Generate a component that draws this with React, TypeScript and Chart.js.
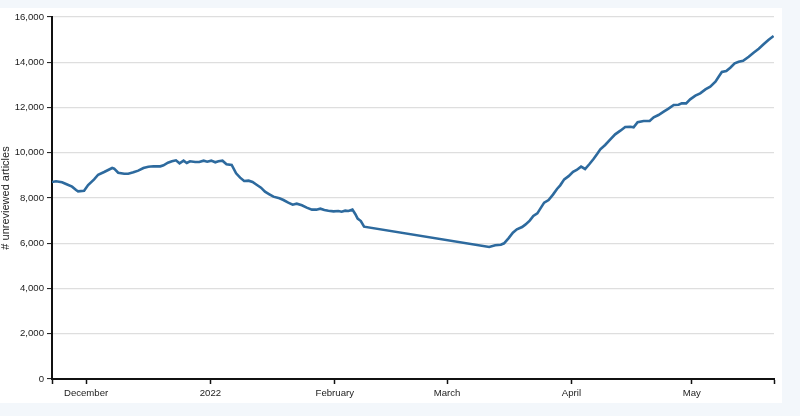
import React, { useEffect, useRef } from "react";
import { Chart, registerables } from "chart.js";

Chart.register(...registerables);

// Days counted from 1 December 2021 (0 = Dec 1, 31 = Jan 1 2022, ...)
const dayOffsets = [
  -8.5, -7.5, -6, -5, -3.5, -2.5, -2, -0.5, 0.5, 2, 3, 4.5, 5.5, 6.5, 7, 8, 9.5, 10.5, 11.8, 13,
  14.3, 15.5, 16.8, 18.5, 19.3, 20.4, 21.4, 22.4, 23.3, 24.3, 25.1, 25.9, 27.2, 28.2, 29.3, 30.2,
  31.2, 32.2, 33, 34, 35, 36.3, 37.4, 38.4, 39.4, 40.5, 41.5, 42.6, 43.6, 44.6, 45.7, 46.7, 48.2,
  49.2, 50.4, 51.5, 52.5, 53.8, 55, 56.3, 57.4, 58.4, 59.4, 60.4, 61.7, 62.9, 63.7, 64.6, 65.4,
  66.4, 67.1, 67.7, 68.5, 69.3, 100.5, 102, 103.4, 104.2, 105.3, 106.4, 107.4, 108.7, 109.5, 110.6,
  111.5, 112.5, 113.4, 114.2, 115.3, 116.4, 117.4, 118.2, 119.2, 120.3, 121.4, 122.3, 123.4, 124.4,
  125.5, 126.5, 127.4, 128.2, 129.4, 130.7, 131.9, 133.2, 134.4, 135.7, 136.5, 137.5, 139, 140.5,
  141.5, 142.7, 144, 145.2, 146.5, 147.7, 148.5, 149.6, 150.6, 151.9, 153.1, 154.4, 155.6, 156.9,
  157.7, 158.5, 159.6, 160.6, 161.7, 162.7, 163.8, 165.2, 166.4, 167.7, 168.9, 170.1, 171.4,
];

const unreviewedArticles = [
  8707, 8737, 8693, 8619, 8500, 8354, 8295, 8324, 8574, 8825, 9030, 9149, 9237, 9326, 9297, 9119,
  9075, 9075, 9134, 9208, 9326, 9385, 9400, 9400, 9444, 9562, 9621, 9665, 9533, 9650, 9547, 9621,
  9591, 9591, 9650, 9606, 9650, 9577, 9621, 9650, 9488, 9459, 9090, 8899, 8752, 8766, 8707, 8574,
  8456, 8280, 8162, 8059, 7986, 7912, 7794, 7706, 7750, 7677, 7573, 7485, 7485, 7529, 7470, 7440,
  7411, 7426, 7396, 7440, 7426, 7485, 7293, 7087, 6983, 6733, 5834, 5908, 5937, 5997, 6218, 6468,
  6615, 6718, 6822, 6998, 7204, 7322, 7573, 7794, 7912, 8150, 8400, 8560, 8825, 8965, 9155, 9237,
  9385, 9282, 9503, 9724, 9945, 10151, 10343, 10593, 10814, 10976, 11138, 11150, 11125, 11346,
  11403, 11403, 11566, 11669, 11816, 11949, 12110, 12125, 12184, 12184, 12360, 12522, 12626, 12802,
  12920, 13141, 13362, 13569, 13613, 13760, 13953, 14025, 14069, 14246, 14422, 14599, 14793, 14983,
  15160,
];

const xMinDay = -8.5;
const xMaxDay = 171.5;
const monthTickDays = [0, 31, 62, 90, 121, 151];
const monthTickLabels = ["December", "2022", "February", "March", "April", "May"];
const yTickValues = [0, 2000, 4000, 6000, 8000, 10000, 12000, 14000, 16000];
const yAxisTitle = "# unreviewed articles";

const FONT = "'Liberation Sans', Arial, Helvetica, sans-serif";

export default function App() {
  const canvasRef = useRef<HTMLCanvasElement | null>(null);

  useEffect(() => {
    if (!canvasRef.current) return;
    const chart = new Chart(canvasRef.current, {
      type: "line",
      data: {
        datasets: [
          {
            data: dayOffsets.map((d, i) => ({ x: d, y: unreviewedArticles[i] })),
            borderColor: "#2d6a9e",
            borderWidth: 2.6,
            pointRadius: 0,
            tension: 0,
            fill: false,
          },
        ],
      },
      options: {
        animation: false,
        responsive: false,
        maintainAspectRatio: false,
        layout: { padding: { top: 9, right: 8, left: 0, bottom: 0 } },
        plugins: {
          legend: { display: false },
          tooltip: { enabled: false },
        },
        scales: {
          x: {
            type: "linear",
            min: xMinDay,
            max: xMaxDay,
            afterBuildTicks: (scale: any) => {
              scale.ticks = [
                { value: xMinDay },
                ...monthTickDays.map((v) => ({ value: v })),
                { value: xMaxDay },
              ];
            },
            afterFit: (scale: any) => {
              scale.height = 24;
            },
            ticks: {
              autoSkip: false,
              maxRotation: 0,
              padding: 4,
              color: "#222",
              font: { family: FONT, size: 9.6 },
              callback: (value: any) => {
                const idx = monthTickDays.indexOf(Number(value));
                return idx >= 0 ? monthTickLabels[idx] : "";
              },
            },
            grid: {
              drawOnChartArea: false,
              drawTicks: true,
              tickLength: 5,
              tickColor: "#111",
              tickWidth: 1.5,
            },
            border: { display: true, color: "#111", width: 2 },
          },
          y: {
            type: "linear",
            min: 0,
            max: 16000,
            afterBuildTicks: (scale: any) => {
              scale.ticks = yTickValues.map((v) => ({ value: v }));
            },
            afterFit: (scale: any) => {
              scale.width = 52;
            },
            ticks: {
              padding: 3,
              color: "#222",
              font: { family: FONT, size: 9.6 },
              callback: (value: any) => Number(value).toLocaleString("en-US"),
            },
            grid: {
              color: "#dedede",
              lineWidth: 1.2,
              tickLength: 5,
              tickColor: "#111",
              tickWidth: 1,
            },
            border: { display: true, color: "#111", width: 2 },
            title: {
              display: true,
              text: yAxisTitle,
              color: "#222",
              font: { family: FONT, size: 11 },
              padding: { top: -1, bottom: 0 },
            },
          },
        },
      },
    });
    return () => chart.destroy();
  }, []);

  return (
    <div
      style={{
        position: "fixed",
        left: 0,
        top: 0,
        width: "100%",
        height: "100%",
        background: "#f3f7fb",
      }}
    >
      <div
        style={{
          position: "absolute",
          left: 0,
          top: 8,
          width: 782,
          height: 395,
          background: "#ffffff",
        }}
      >
        <canvas ref={canvasRef} width={782} height={395} style={{ display: "block" }} />
      </div>
    </div>
  );
}
